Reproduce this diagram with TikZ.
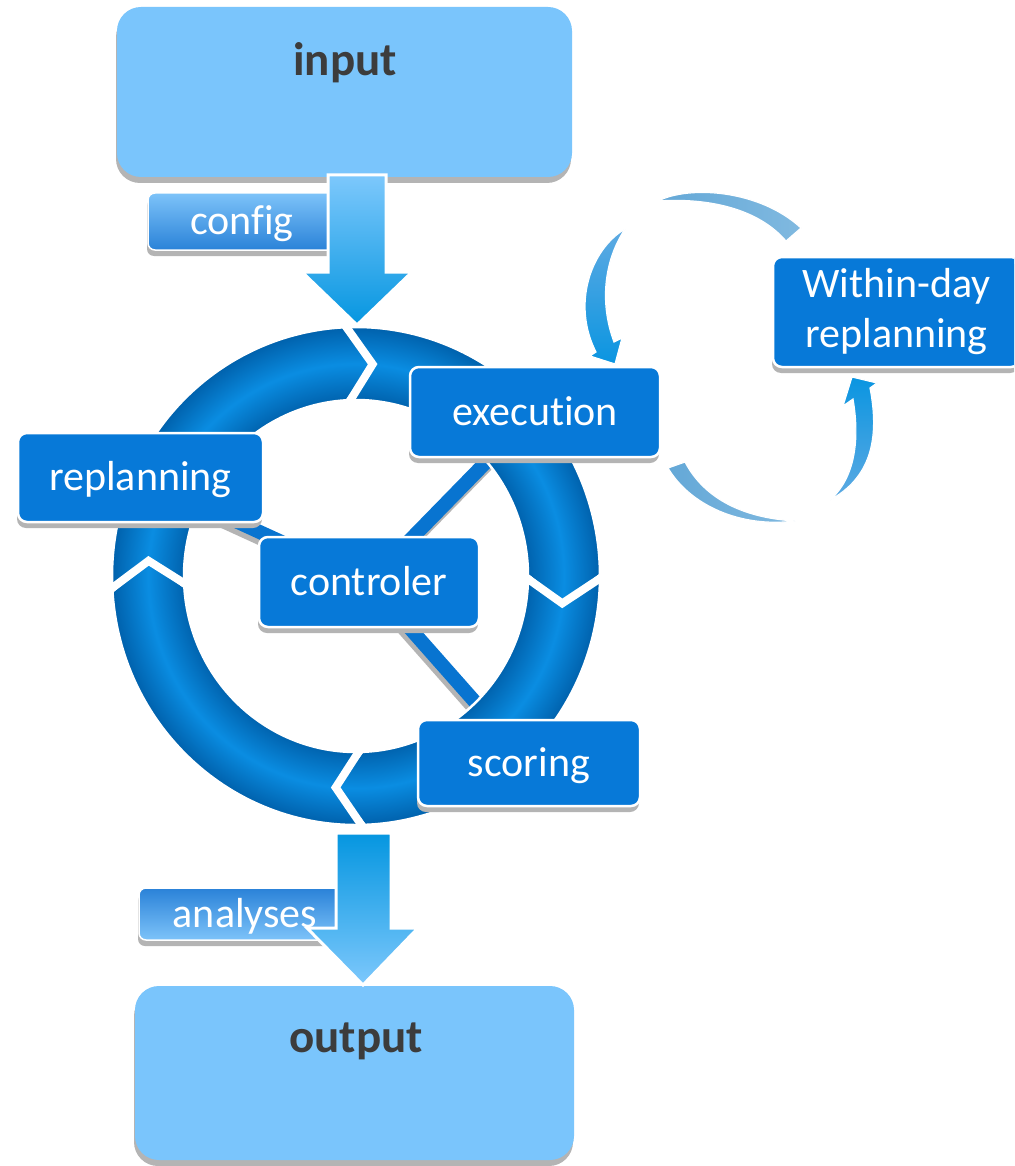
\documentclass[tikz,border=0pt]{standalone}
\usepackage{fontspec}
\setmainfont[Ligatures=NoCommon]{Carlito}
\usetikzlibrary{shadows}

\definecolor{lightfill}{HTML}{7AC5FC}
\definecolor{nodeblue}{HTML}{0779D8}
\definecolor{spokeblue}{HTML}{0874D0}
\definecolor{darktext}{HTML}{3C3C3C}
\definecolor{shadowgray}{HTML}{B4B4B4}
\definecolor{ringdark}{HTML}{0061AC}
\definecolor{ringlight}{HTML}{0A8DE2}
\definecolor{tagl}{HTML}{7DC3F9}
\definecolor{tagd}{HTML}{2A82D8}
\definecolor{arrl}{HTML}{7DC8FC}
\definecolor{arrd}{HTML}{0596E0}
\definecolor{cycbright}{HTML}{0A95E1}
\definecolor{cycpale}{HTML}{5EAAE2}
\definecolor{arcblue}{HTML}{64A8D7}
\definecolor{arcpale}{HTML}{80B9E0}

\pgfdeclarelayer{bglayer}
\pgfdeclarelayer{ringlayer}
\pgfdeclarelayer{spokelayer}
\pgfsetlayers{bglayer,spokelayer,ringlayer,main}

% light in the middle of the ring band, darker at both rims
\pgfdeclareradialshading{ringshade}{\pgfpointorigin}{%
  color(0bp)=(ringdark); color(17.5bp)=(ringdark); color(21.3bp)=(ringlight);
  color(25bp)=(ringdark); color(50bp)=(ringdark)}

\begin{document}
\begin{tikzpicture}[x=1pt,y=-1pt,
  boxshadow/.style={drop shadow={shadow xshift=-1pt,shadow yshift=-6pt,fill=shadowgray,opacity=1}},
  lightbox/.style={fill=lightfill, rounded corners=24pt, boxshadow},
  bigtext/.style={font=\fontsize{47}{56}\selectfont\bfseries, text=darktext, inner sep=0pt},
  darkbox/.style={draw=white, line width=2.5pt, fill=nodeblue, rounded corners=9pt,
    text=white, font=\fontsize{42}{50}\selectfont, inner sep=3pt, boxshadow},
  oneline/.style={text height=26pt, text depth=0pt},
  tagbox/.style={draw=white, line width=1.5pt, rounded corners=7pt, text=white,
    font=\fontsize{42}{49}\selectfont, inner sep=2pt, oneline, boxshadow},
  bigarrow/.style={draw=white, line width=3pt, line join=miter},
  cyclepart/.style={draw=white, line width=1.2pt},
  spoke/.style={line width=14pt, draw=spokeblue,
    preaction={draw=shadowgray, line width=14pt, transform canvas={shift={(-2pt,-5pt)}}}}
]
\clip (0,0) rectangle (1014,1166);
\begin{pgfonlayer}{bglayer}
\fill[white] (0,0) rectangle (1014,1166);
\end{pgfonlayer}

% ---- the main cycle ring: four arc segments with chevron ends ----
% outer radii 244/249, middle 208/212.5, inner 172/176
\begin{pgfonlayer}{ringlayer}
\begin{scope}[shift={(356,576)}]
\foreach \a/\b in {-89/3.8, 3.8/92, 92/180.5, 180.5/271}{
  \begin{scope}
    \clip (\a-4:244 and 249)
      arc[start angle=\a-4, end angle=\b-4, x radius=244, y radius=249]
      -- (\b+3.6:208 and 212.5) -- (\b-4:172 and 176)
      arc[start angle=\b-4, end angle=\a-4, x radius=172, y radius=176]
      -- (\a+3.6:208 and 212.5) -- cycle;
    \shade[shading=ringshade] (0,0) ellipse[x radius=244, y radius=249];
  \end{scope}
  \draw[white, line width=2.5pt, line join=miter]
    (\a-4:244 and 249)
      arc[start angle=\a-4, end angle=\b-4, x radius=244, y radius=249]
      -- (\b+3.6:208 and 212.5) -- (\b-4:172 and 176)
      arc[start angle=\b-4, end angle=\a-4, x radius=172, y radius=176]
      -- (\a+3.6:208 and 212.5) -- cycle;
}
% white chevron gaps between the segments
\foreach \q in {-89, 3.8, 92, 180.5}{
  \draw[white, line width=8pt, line join=miter]
    (\q-4:249 and 254) -- (\q+3.6:208 and 212.5) -- (\q-4:167 and 171);
}
\end{scope}
\end{pgfonlayer}

% ---- within-day loop ----
\shadedraw[cyclepart, top color=cycpale, bottom color=cycbright]
  (625,229) .. controls (590,250) and (572,305) .. (596,352)
  -- (590,356) -- (615,364) -- (622,338) -- (614,342)
  .. controls (600,305) and (603,262) .. (625,229) -- cycle;
\shadedraw[cyclepart, top color=cycbright, bottom color=cycpale]
  (830,500) .. controls (855,478) and (860,440) .. (853,399)
  -- (843,406) -- (852,377) -- (877,383) -- (870,388)
  .. controls (880,440) and (870,478) .. (830,500) -- cycle;
\shadedraw[cyclepart, left color=arcblue, right color=arcpale]
  (658,201) .. controls (690,185) and (760,190) .. (801,228)
  -- (786,241) .. controls (755,205) and (700,198) .. (658,201) -- cycle;
\shadedraw[cyclepart, left color=arcblue, right color=arcpale]
  (668,468) .. controls (690,505) and (740,528) .. (795,521)
  .. controls (745,518) and (705,500) .. (685,462) -- cycle;

% ---- input / output ----
\node[lightbox, minimum width=455, minimum height=170] (input) at (344.5,92) {};
\node[bigtext, anchor=base] (inputtxt) at (345,76) {input};
\node[lightbox, minimum width=439, minimum height=174] (output) at (354.5,1073) {};
\node[bigtext, anchor=base] (outputtxt) at (356,1052) {output};

% ---- side tags ----
\node[tagbox, top color=tagl, bottom color=tagd, minimum width=188, minimum height=57]
  (cfg) at (242,221.5) {config};
\node[tagbox, top color=tagd, bottom color=tagl, minimum width=212, minimum height=52]
  (ana) at (245,914) {analyses};

% ---- block arrows into and out of the ring ----
\shadedraw[bigarrow, top color=arrl, bottom color=arrd]
  (328,175) -- (386,175) -- (386,272) -- (412,272) -- (357,325)
  -- (302,272) -- (328,272) -- cycle;
\shadedraw[bigarrow, top color=arrd, bottom color=arrl]
  (336,833) -- (391,833) -- (391,928) -- (418,928) -- (363,985)
  -- (307,928) -- (336,928) -- cycle;

% ---- process steps ----
\node[darkbox, oneline, minimum width=250, minimum height=90] (exec) at (535,412) {execution};
\node[darkbox, oneline, minimum width=245, minimum height=89] (replan) at (140.5,477.5) {replanning};
\node[darkbox, oneline, minimum width=220, minimum height=90] (ctrl) at (369,582) {controler};
\node[darkbox, oneline, minimum width=222, minimum height=86] (score) at (529,763) {scoring};
\node[darkbox, align=center, minimum width=247, minimum height=110] (wdr) at (896.5,312)
  {Within-day\\replanning};

% ---- spokes from the controler ----
\begin{pgfonlayer}{spokelayer}
\draw[spoke] (ctrl.center) -- (exec.center);
\draw[spoke] (ctrl.center) -- (replan.center);
\draw[spoke] (ctrl.center) -- (score.center);
\end{pgfonlayer}
\end{tikzpicture}
\end{document}
